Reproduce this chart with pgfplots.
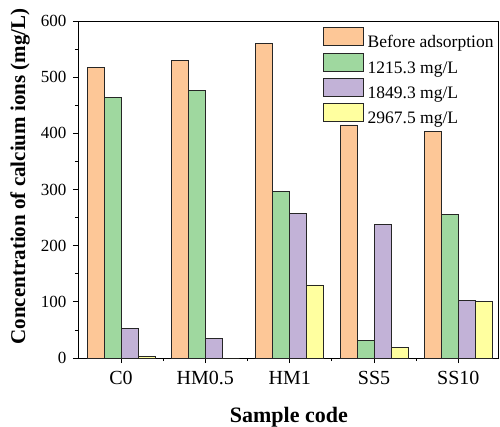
\documentclass[border=0pt]{standalone}
\usepackage{pgfplots}
\pgfplotsset{compat=1.18}
\usepackage{fontspec}
\setmainfont{Liberation Serif}

\definecolor{cBefore}{RGB}{253,199,151}
\definecolor{cLow}{RGB}{159,216,159}
\definecolor{cMid}{RGB}{194,178,215}
\definecolor{cHigh}{RGB}{255,255,159}

\pgfplotstableread{
idx before low mid high
0   518    464  52  3
1   530    477  35  0
2   560    296  258 130
3   415    32   238 18
4   404    255  102 100
}\calcium

\begin{document}
\begin{tikzpicture}
\begin{axis}[
  name=ax,
  scale only axis, width=420pt, height=337pt,
  xmin=-0.51, xmax=4.47, ymin=0, ymax=600,
  ybar=0pt, bar width=17pt,
  xtick={0,1,2,3,4}, xticklabels={C0,HM0.5,HM1,SS5,SS10},
  minor xtick={0.5,1.5,2.5,3.5},
  ytick={0,100,...,600}, minor ytick={50,150,...,550},
  tick align=outside, tick pos=left,
  major tick length=5pt, minor tick length=3pt,
  tick style={black, line width=0.8pt},
  axis line style={black, line width=0.9pt},
  /pgf/number format/assume math mode=true,
  yticklabel style={font=\fontsize{17}{20}\selectfont, xshift=-3pt},
  xticklabel style={font=\fontsize{20}{24}\selectfont, anchor=base, yshift=-21pt},
  ylabel={\textbf{Concentration of calcium ions (mg/L)}},
  ylabel style={font=\fontsize{21}{24}\selectfont, at={(axis description cs:-0.138,0.539)}, anchor=center},
  xlabel={\textbf{Sample code}},
  xlabel style={font=\fontsize{22}{26}\selectfont, at={(axis description cs:0.502,-0.19)}, anchor=base},
  legend cell align=left,
  legend image code/.code={\draw[#1] (0pt,-3pt) rectangle (40pt,15pt);},
  legend style={at={(rel axis cs:0.583,0.982)}, anchor=north west,
    draw=none, fill=none, inner sep=0pt, outer sep=0pt, row sep=3.3pt,
    font=\fontsize{17.5}{20}\selectfont,
    nodes={inner sep=0pt},
    /tikz/every odd column/.append style={column sep=4pt}},
  every axis plot/.append style={draw=black!85, line width=0.8pt},
]
\addplot[fill=cBefore] table[x=idx, y=before] {\calcium};
\addplot[fill=cLow]    table[x=idx, y=low]    {\calcium};
\addplot[fill=cMid]    table[x=idx, y=mid]    {\calcium};
\addplot[fill=cHigh]   table[x=idx, y=high]   {\calcium};
\legend{Before adsorption, 1215.3 mg/L, 1849.3 mg/L, 2967.5 mg/L}
\end{axis}
\pgfresetboundingbox
\path ([shift={(-78pt,-68pt)}]ax.south west) rectangle ([shift={(422pt,358pt)}]ax.south west);
\end{tikzpicture}
\end{document}
